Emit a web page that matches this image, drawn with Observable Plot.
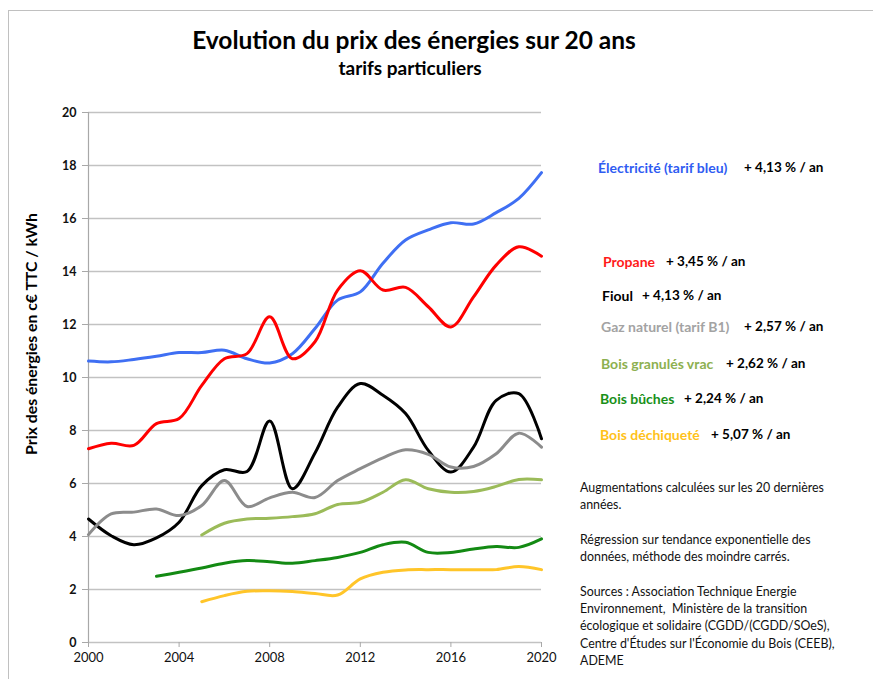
<!DOCTYPE html>
<html>
<head>
<meta charset="utf-8">
<script src="https://cdn.jsdelivr.net/npm/d3@7"></script>
<script src="https://cdn.jsdelivr.net/npm/@observablehq/plot@0.6"></script>
<style>
  body { margin: 0; background: #fff; font-family: Lato, "Open Sans", sans-serif; }
  #wrap { position: relative; width: 873px; height: 679px; overflow: hidden; }
  #frame { position: absolute; left: 8px; top: 10px; width: 900px; height: 720px; border: 1.5px solid #c0c0c0; box-sizing: border-box; }
  #chart { position: absolute; left: 0; top: 0; }
  .t { position: absolute; white-space: nowrap; line-height: 1; font-weight: bold; }
  .note { position: absolute; left: 580px; font-size: 12.4px; line-height: 17.3px; color: #111; white-space: nowrap; }
</style>
</head>
<body>
<div id="wrap">
  <div id="frame"></div>
  <div id="chart"></div>
</div>
<script>
// ---- data ----
const years = [2000,2001,2002,2003,2004,2005,2006,2007,2008,2009,2010,2011,2012,2013,2014,2015,2016,2017,2018,2019,2020];
const electricite = [10.62,10.59,10.68,10.80,10.94,10.94,11.03,10.71,10.55,10.90,11.85,12.92,13.23,14.31,15.19,15.57,15.84,15.79,16.22,16.76,17.73];
const propane     = [7.31,7.52,7.44,8.26,8.45,9.70,10.71,10.90,12.29,10.71,11.35,13.30,14.03,13.30,13.40,12.67,11.91,13.04,14.24,14.93,14.58];
const fioul       = [4.66,4.03,3.69,3.95,4.54,5.92,6.52,6.45,8.36,5.80,7.15,8.88,9.77,9.33,8.64,7.25,6.43,7.37,9.14,9.39,7.69];
const gaz         = [4.07,4.85,4.92,5.04,4.79,5.17,6.11,5.13,5.46,5.67,5.47,6.11,6.56,6.97,7.27,7.10,6.62,6.64,7.12,7.90,7.37];
const granules    = [null,null,null,null,null,4.06,4.50,4.66,4.69,4.75,4.86,5.21,5.29,5.67,6.14,5.80,5.67,5.70,5.89,6.15,6.14];
const buches      = [null,null,null,2.50,2.65,2.81,2.99,3.09,3.05,2.99,3.09,3.21,3.40,3.69,3.78,3.40,3.40,3.53,3.62,3.59,3.91];
const dechiquete  = [null,null,null,null,null,1.54,1.77,1.93,1.95,1.92,1.85,1.79,2.40,2.65,2.74,2.75,2.75,2.75,2.75,2.87,2.75];

const seriesNames = ["Électricité (tarif bleu)","Propane","Fioul","Gaz naturel (tarif B1)","Bois granulés vrac","Bois bûches","Bois déchiqueté"];
const seriesValues = [electricite, propane, fioul, gaz, granules, buches, dechiquete];
const growth = ["+ 4,13 % / an","+ 3,45 % / an","+ 4,13 % / an","+ 2,57 % / an","+ 2,62 % / an","+ 2,24 % / an","+ 5,07 % / an"];
const xTicks = [2000,2004,2008,2012,2016,2020];
const yTicks = [0,2,4,6,8,10,12,14,16,18,20];
const title = "Evolution du prix des énergies sur 20 ans";
const subtitle = "tarifs particuliers";
const yLabel = "Prix des énergies en c€ TTC / kWh";
const notes = [
  "Augmentations calculées sur les 20 dernières", "années.", "",
  "Régression sur tendance exponentielle des", "données, méthode des moindre carrés.", "",
  "Sources : Association Technique Energie", "Environnement,  Ministère de la transition",
  "écologique et solidaire (CGDD/(CGDD/SOeS),", "Centre d'Études sur l'Économie du Bois (CEEB),", "ADEME"
];

// ---- styles ----
const lineColors = ["#3f6ff3","#ff0000","#000000","#8c8c8c","#9bbb59","#138a13","#ffc529"];
const labelColors = ["#2f5cf2","#ff1a1a","#000000","#a3a3a3","#8db050","#199019","#ffc21a"];
const legendPos = [[598,168,744],[603,262,666],[602,296,642],[601,327,744],[601,364,726],[600,399,684],[600,435,711]];

const rows = [];
seriesNames.forEach((s, i) => {
  seriesValues[i].forEach((v, j) => { if (v != null) rows.push({series: s, year: years[j], value: v}); });
});

const chart = Plot.plot({
  width: 873, height: 679,
  marginLeft: 88, marginRight: 332, marginTop: 112, marginBottom: 37,
  style: {fontFamily: "Lato, 'Open Sans', sans-serif", background: "transparent", color: "#111"},
  x: {domain: [2000, 2020], ticks: xTicks, tickFormat: d => String(d), label: null},
  y: {domain: [0, 20], ticks: yTicks, label: null},
  color: {domain: seriesNames, range: lineColors},
  marks: [
    Plot.gridY(yTicks, {stroke: "#c2c2c2", strokeOpacity: 1, strokeWidth: 1.5}),
    Plot.ruleX([2000], {stroke: "#a8a8a8", strokeWidth: 1.2}),
    Plot.axisY(yTicks, {tickSize: 6, tickPadding: 6, fontSize: 12.5, fontWeight: "bold", stroke: "#a8a8a8", label: null}),
    Plot.axisX(xTicks, {tickSize: 5, tickPadding: 5, fontSize: 13, stroke: "#a8a8a8", tickFormat: d => String(d), label: null}),
    Plot.line(rows, {x: "year", y: "value", z: "series", stroke: "series", curve: "catmull-rom", strokeWidth: 3})
  ]
});
document.getElementById("chart").appendChild(chart);

const wrap = document.getElementById("wrap");
function addText(txt, cls, css) {
  const d = document.createElement("div");
  d.className = cls; d.textContent = txt;
  Object.assign(d.style, css);
  wrap.appendChild(d);
  return d;
}
addText(title, "t", {left: "0px", width: "828px", textAlign: "center", top: "28px", fontSize: "24.5px", color: "#000"});
addText(subtitle, "t", {left: "0px", width: "820px", textAlign: "center", top: "58px", fontSize: "19px", color: "#000"});
addText(yLabel, "t", {left: "31px", top: "334px", fontSize: "15.8px", color: "#000", transform: "translate(-50%,-50%) rotate(-90deg)"});
seriesNames.forEach((s, i) => {
  const [x, y, vx] = legendPos[i];
  addText(s, "t", {left: x + "px", top: (y - 7) + "px", fontSize: "14px", color: labelColors[i]});
  addText(growth[i], "t", {left: vx + "px", top: (y - 7) + "px", fontSize: "13.5px", color: "#000"});
});
const nd = document.createElement("div");
nd.className = "note";
nd.style.top = "479px";
nd.innerHTML = notes.map(l => l === "" ? "&nbsp;" : l.replace(/ {2}/g, " &nbsp;")).join("<br>");
wrap.appendChild(nd);
</script>
</body>
</html>
